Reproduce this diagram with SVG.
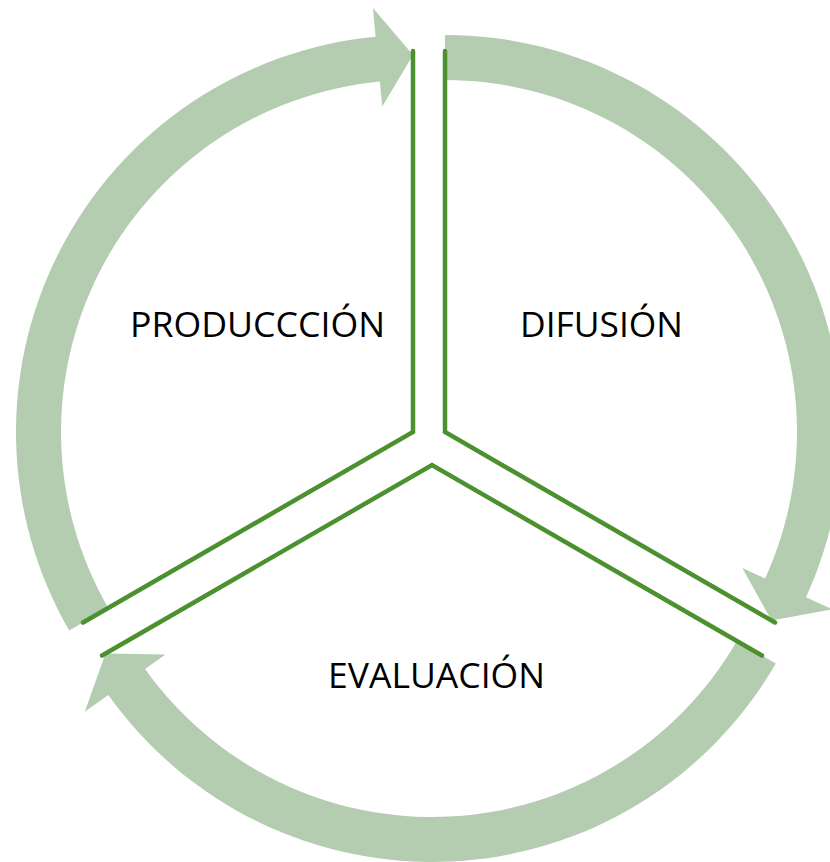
<svg xmlns="http://www.w3.org/2000/svg" width="830" height="862" viewBox="0 0 830 862">
<style>
.arrow{fill:#b4cdb1;stroke:none}
.edge{fill:none;stroke:#4c9130;stroke-width:4.5;stroke-linejoin:miter;stroke-linecap:round}
.lbl{font-family:"Open Sans","Noto Sans","Liberation Sans",sans-serif;font-size:34px;fill:#000;text-anchor:middle}
</style>
<rect width="830" height="862" fill="#fff"/>
<g id="connectors">
<path class="arrow" d="M69.2,630.5 A397,397 0 0 1 375.64,36.76 L372.91,7.89 L413,55 L382.23,106.45 L379.87,81.56 A352,352 0 0 0 108.2,608 Z"/>
<path class="arrow" d="M445,35 A397,397 0 0 1 805.97,597.26 L832.34,609.34 L771.49,620.5 L742.32,568.12 L765.05,578.53 A352,352 0 0 0 445,80 Z"/>
<path class="arrow" d="M775.81,663.5 A397,397 0 0 1 108.39,694.97 L84.75,711.77 L105.51,653.5 L165.45,654.42 L145.07,668.91 A352,352 0 0 0 736.84,641 Z"/>
</g>
<g id="produccion">
<path class="edge" d="M413,51 L413,432 L83.05,622.5"/>
<text class="lbl" x="257.5" y="337" textLength="255" lengthAdjust="spacingAndGlyphs">PRODUCCCIÓN</text>
</g>
<g id="difusion">
<path class="edge" d="M445,51 L445,432 L774.95,622.5"/>
<text class="lbl" x="601.5" y="337" textLength="163" lengthAdjust="spacingAndGlyphs">DIFUSIÓN</text>
</g>
<g id="evaluacion">
<path class="edge" d="M102.05,655.5 L432,465 L761.95,655.5"/>
<text class="lbl" x="436.5" y="688" textLength="217" lengthAdjust="spacingAndGlyphs">EVALUACIÓN</text>
</g>
</svg>
